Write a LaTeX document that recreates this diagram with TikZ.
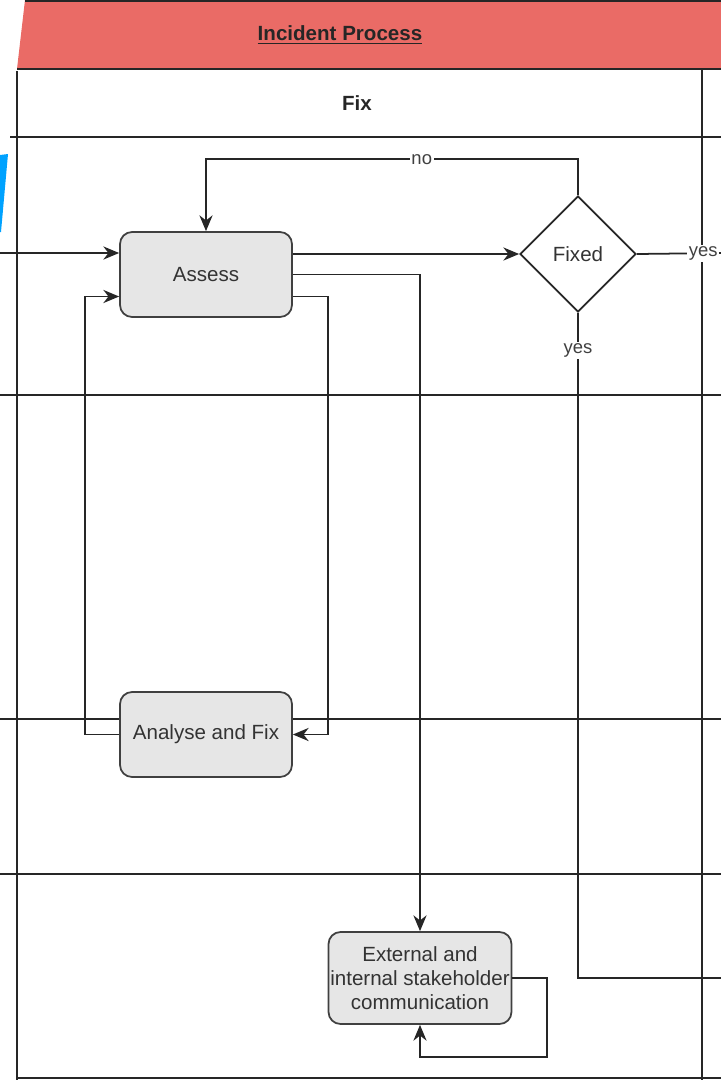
\documentclass[tikz,border=0pt]{standalone}
\usepackage{fontspec}
\setmainfont{Liberation Sans}
\usetikzlibrary{positioning}
\usetikzlibrary{shapes}
\usetikzlibrary{arrows.meta}
\definecolor{headred}{HTML}{EA6B66}
\definecolor{boxgray}{HTML}{E6E6E6}
\definecolor{shardblue}{HTML}{00A2FF}
\tikzset{myboxStep/.style={draw=black!75, line width=1pt, rounded corners=0.24cm, fill=boxgray, text=black!80, minimum width=3.44cm, minimum height=1.7cm, align=center, inner sep=1pt, font=\fontsize{11.7}{13.6}\selectfont}}
\tikzset{myboxFixed/.style={draw=black!85, line width=1pt, diamond, fill=white, text=black!80, minimum width=2.32cm, minimum height=2.32cm, inner sep=0pt, font=\fontsize{11.7}{13.6}\selectfont}}
\tikzset{myLabel/.style={fill=white, inner sep=1pt, text=black!75, font=\fontsize{10.5}{12}\selectfont}}
\tikzset{myLane/.style={line width=1pt, draw=black!85}}
\tikzset{myLine/.style={line width=1pt, draw=black!85}}
\tikzset{myFlow/.style={myLine, ->, >={Stealth[length=9pt, width=7.5pt]}}}

\begin{document}
\begin{tikzpicture}[x=0.02cm, y=-0.02cm]

\useasboundingbox (0,0) rectangle (721,1080);

\fill[headred] (25,0) -- (721,0) -- (721,69) -- (17,69) -- cycle;
\draw[myLane] (25,1) -- (721,1);
\draw[myLane] (17,69) -- (721,69);
\fill[shardblue] (0,155) -- (8,154) -- (1,232) -- (0,232) -- cycle;

\draw[myLane] (17,71) -- (17,1080);
\draw[myLane] (702,69) -- (702,1080);
\draw[myLane] (10,137) -- (721,137);
\draw[myLane] (0,395) -- (721,395);
\draw[myLane] (0,719) -- (721,719);
\draw[myLane] (0,874) -- (721,874);
\draw[myLane] (17,1078) -- (721,1078);

\node[font=\fontsize{11.7}{13.6}\selectfont\bfseries, text=black!85] (title) at (340,35) {\underline{Incident Process}};
\node[font=\fontsize{11.7}{13.6}\selectfont\bfseries, text=black!85] (lane) at (357,103) {Fix};

\node[myboxStep] (assess) at (206,274.5) {Assess};
\node[myboxStep] (analyse) at (206,734.5) {Analyse and Fix};
\node[myboxStep, minimum width=3.66cm, minimum height=1.84cm] (comms) at (420,978) {External and\\internal stakeholder\\communication};
\node[myboxFixed] (fixed) at (578,254) {Fixed};

\coordinate (inStart) at (0,253);
\coordinate (yesRight) at (721,253);
\coordinate (yesDown) at (721,978);

\draw[myFlow] (inStart) -- (assess.west |- inStart);
\draw[myFlow] (assess.east |- fixed.west) -- (fixed.west);
\draw[myFlow] (fixed.north) -- ++(0,-36) -| (assess.north) node[pos=0.21, myLabel] {no};
\draw[myLine] (fixed.east) -- (yesRight) node[pos=0.79, myLabel] {yes};
\draw[myLine] (fixed.south) -- node[pos=0.057, myLabel] {yes} (fixed.south |- yesDown) -- (yesDown);
\draw[myFlow] (assess.east) -| (comms.north);
\draw[myFlow] ([yshift=-0.44cm]assess.east) -- ++(35,0) |- (analyse.east);
\draw[myFlow] (analyse.west) -- ++(-34,0) |- ([yshift=-0.44cm]assess.west);
\draw[myFlow] (comms.east) -| ++(35,79) -| (comms.south);

\end{tikzpicture}
\end{document}
